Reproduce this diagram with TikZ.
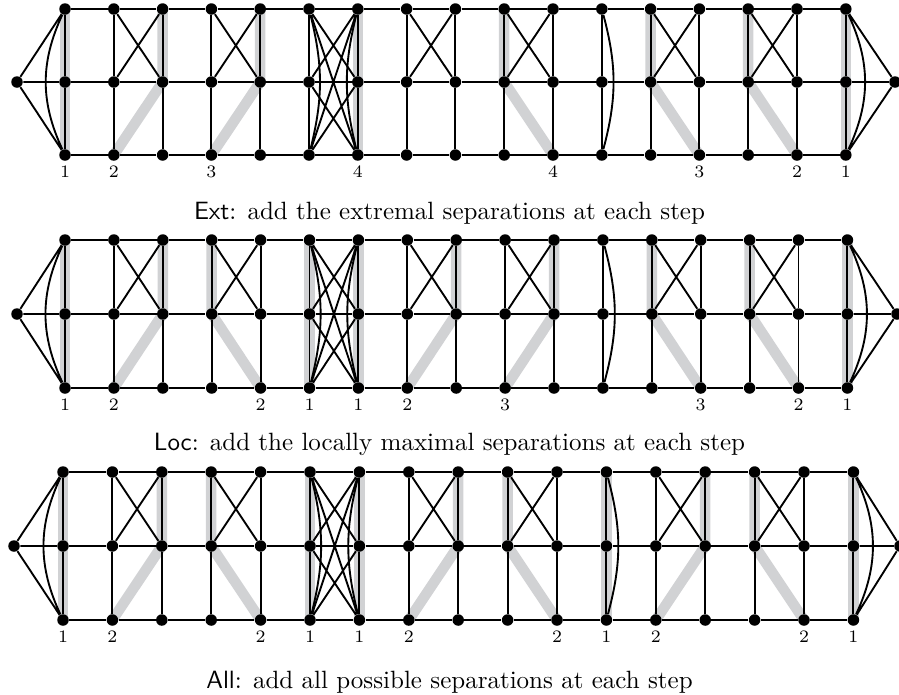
\documentclass[tikz,border=0pt]{standalone}
\usetikzlibrary{calc}
\pgfdeclarelayer{bg}
\pgfsetlayers{bg,main}
\definecolor{sepgray}{RGB}{209,210,212}
\tikzset{
  vtx/.style={circle,fill=black,inner sep=0pt,minimum size=4.6pt},
  edge/.style={line width=0.75pt,black},
  sepline/.style={line width=4.2pt,sepgray},
  lbl/.style={font=\scriptsize,inner sep=0pt},
  captext/.style={font=\normalsize,inner sep=0pt,anchor=base},
}
% #1 prefix, #2 x of column 1, #3 spacing, #4 left x, #5 right x, #6 top y, #7 middle y, #8 bottom y
\newcommand\mkpanel[8]{%
  \node[vtx] (#1L) at (#4,#7) {};
  \node[vtx] (#1R) at (#5,#7) {};
  \foreach \i in {1,...,17}{%
    \pgfmathsetmacro\xx{#2+(\i-1)*#3}%
    \node[vtx] (#1t\i) at (\xx,#6) {};
    \node[vtx] (#1m\i) at (\xx,#7) {};
    \node[vtx] (#1b\i) at (\xx,#8) {};
  }%
  \foreach \i in {1,...,16}{%
    \pgfmathtruncatemacro\j{\i+1}%
    \draw[edge] (#1t\i) -- (#1t\j) (#1m\i) -- (#1m\j) (#1b\i) -- (#1b\j);
  }%
  \foreach \i in {1,...,17}{\draw[edge] (#1t\i) -- (#1m\i) -- (#1b\i);}%
  \draw[edge] (#1L) -- (#1t1) (#1L) -- (#1m1) (#1L) -- (#1b1) (#1t1) to[bend right=25] (#1b1);
  \draw[edge] (#1R) -- (#1t17) (#1R) -- (#1m17) (#1R) -- (#1b17) (#1t17) to[bend left=25] (#1b17);
  \foreach \a/\b in {2/3,4/5,8/9,10/11,13/14,15/16}{\draw[edge] (#1t\a) -- (#1m\b) (#1m\a) -- (#1t\b);}%
  \draw[edge] (#1t6) -- (#1m7) (#1t6) -- (#1b7) (#1m6) -- (#1t7) (#1m6) -- (#1b7) (#1b6) -- (#1t7) (#1b6) -- (#1m7);
  \draw[edge] (#1t6) to[bend left=14] (#1b6) (#1t7) to[bend right=14] (#1b7) (#1t12) to[bend left=15] (#1b12);
}
% #1 prefix, #2 list topcol/bottomcol/number
\newcommand\mkseps[2]{%
  \begin{pgfonlayer}{bg}
  \foreach \a/\b/\n in {#2}{\draw[sepline] (#1t\a.center) -- (#1m\a.center) -- (#1b\b.center);}%
  \end{pgfonlayer}
  \foreach \a/\b/\n in {#2}{\node[lbl] (#1l\b) at ([yshift=-6.8pt]#1b\b.center) {\n};}%
}
\begin{document}
\begin{tikzpicture}[x=0.4pt,y=-0.4pt]
\useasboundingbox (0,0) rectangle (899,694);
\mkpanel{p1}{65}{48.8}{17}{895}{9}{82}{155}
\mkseps{p1}{1/1/1,3/2/2,5/4/3,7/7/4,10/11/4,13/14/3,15/16/2,17/17/1}
\node[captext] (cap1) at (449.5,219.5) {\textsf{Ext}: add the extremal separations at each step};
\mkpanel{p2}{65}{48.9}{17}{897}{240}{314}{388}
\mkseps{p2}{1/1/1,3/2/2,4/5/2,6/6/1,7/7/1,9/8/2,11/10/3,13/14/3,15/16/2,17/17/1}
\node[captext] (cap2) at (449.5,450) {\textsf{Loc}: add the locally maximal separations at each step};
\mkpanel{p3}{63}{49.4}{14}{900}{472}{546}{620}
\mkseps{p3}{1/1/1,3/2/2,4/5/2,6/6/1,7/7/1,9/8/2,10/11/2,12/12/1,14/13/2,15/16/2,17/17/1}
\node[captext] (cap3) at (449.5,688) {\textsf{All}: add all possible separations at each step};
\end{tikzpicture}
\end{document}
